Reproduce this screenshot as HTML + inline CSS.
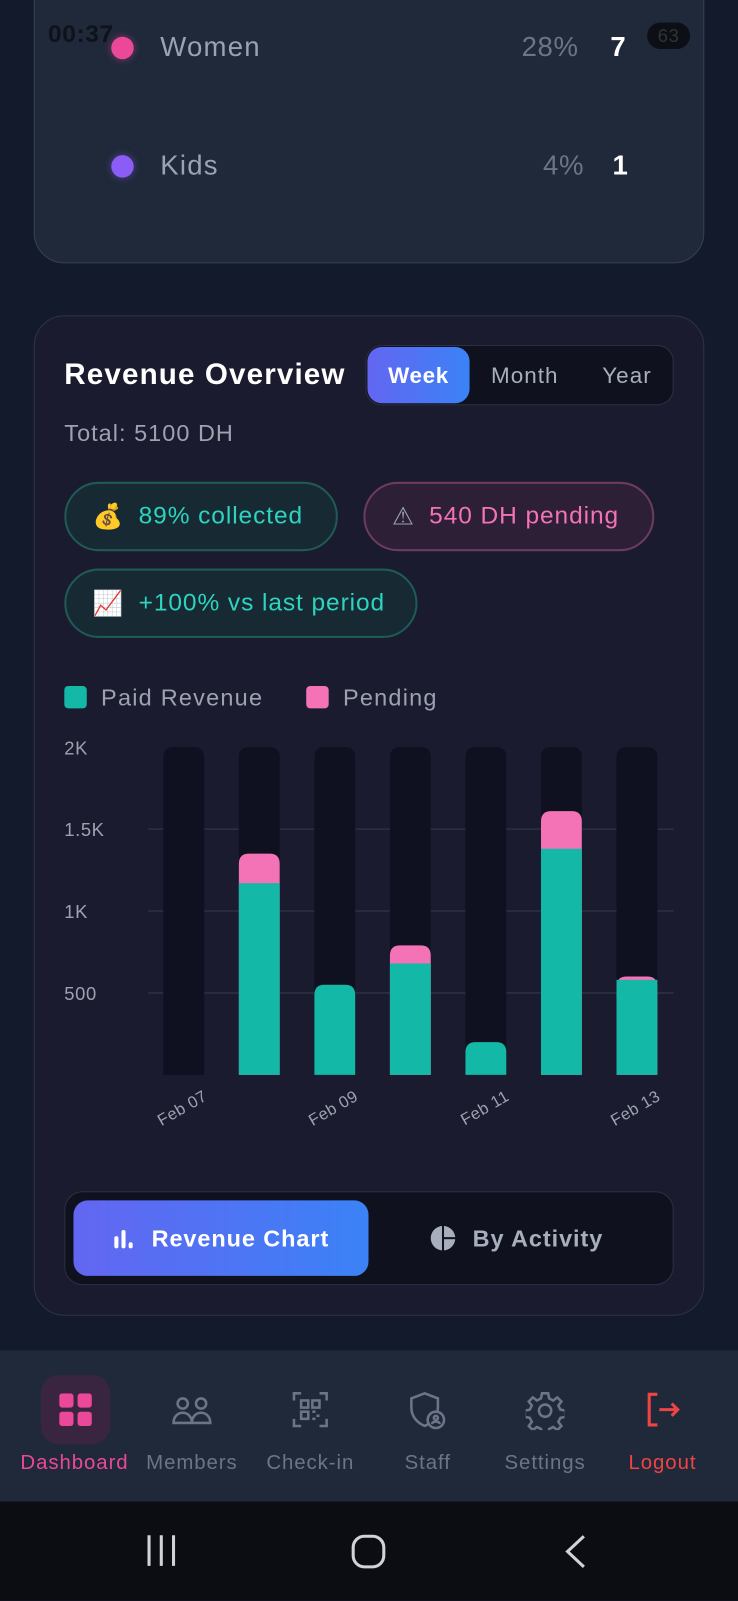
<!DOCTYPE html>
<html><head><meta charset="utf-8">
<style>
html,body{margin:0;padding:0;width:738px;height:1600px;overflow:hidden;background:#111827;}
#root{position:absolute;left:0;top:0;width:723px;height:1568px;transform:scale(1.020747);transform-origin:0 0;background:#121a2b;font-family:"Liberation Sans","DejaVu Sans",sans-serif;overflow:hidden;letter-spacing:0.6px;}
.abs{position:absolute;}
.t{position:absolute;white-space:nowrap;}
.pill{position:absolute;border-radius:34px;box-sizing:border-box;display:flex;align-items:center;font-size:24px;letter-spacing:0.9px;}
.nav{position:absolute;top:1323px;width:110px;text-align:center;}
.nav .lbl{position:absolute;top:99px;left:-10px;width:130px;font-size:20px;color:#6b7587;letter-spacing:0.9px;}
</style></head><body>
<div id="root">
  <div class="abs" style="left:33px;top:-40px;width:657px;height:298px;background:#1f293a;border:1.5px solid #364154;border-radius:30px;box-sizing:border-box;"></div>
  <div class="abs" style="left:109px;top:36px;width:22px;height:22px;border-radius:50%;background:#ec4899;box-shadow:0 0 8px rgba(236,72,153,.5)"></div>
  <div class="t" style="left:157px;top:31px;font-size:27px;letter-spacing:1.2px;color:#9aa3b2">Women</div>
  <div class="t" style="left:511px;top:31px;font-size:27px;color:#6b7587">28%</div>
  <div class="t" style="left:598px;top:31px;font-size:27px;color:#fff;font-weight:bold">7</div>
  <div class="abs" style="left:109px;top:152px;width:22px;height:22px;border-radius:50%;background:#8b5cf6;box-shadow:0 0 8px rgba(139,92,246,.5)"></div>
  <div class="t" style="left:157px;top:147px;font-size:27px;letter-spacing:1.2px;color:#9aa3b2">Kids</div>
  <div class="t" style="left:532px;top:147px;font-size:27px;color:#6b7587">4%</div>
  <div class="t" style="left:600px;top:147px;font-size:27px;color:#fff;font-weight:bold">1</div>
  <div class="t" style="left:47px;top:20px;font-size:24px;color:#0c0f16;font-weight:bold;opacity:.85">00:37</div>
  <div class="abs" style="left:634px;top:22px;width:42px;height:26px;border-radius:13px;background:#0c0f16;color:#333;font-size:18px;text-align:center;line-height:26px">63</div>

  <div class="abs" style="left:33px;top:309px;width:657px;height:980px;background:#1a1b2e;border:1.5px solid #2f3346;border-radius:30px;box-sizing:border-box;"></div>
  <div class="t" style="left:63px;top:351px;font-size:29px;letter-spacing:1.1px;font-weight:bold;color:#fff">Revenue Overview</div>
  <div class="abs" style="left:358px;top:338px;width:302px;height:59px;background:#10111f;border:1.5px solid #2c2f42;border-radius:16px;box-sizing:border-box"></div>
  <div class="abs" style="left:360px;top:340px;width:100px;height:55px;border-radius:14px;background:linear-gradient(90deg,#6366f1,#3b82f6);color:#fff;font-size:22px;text-align:center;line-height:55px;font-weight:bold">Week</div>
  <div class="t" style="left:481px;top:355px;font-size:22px;letter-spacing:1px;color:#a7afbd">Month</div>
  <div class="t" style="left:590px;top:355px;font-size:22px;letter-spacing:1px;color:#a7afbd">Year</div>
  <div class="t" style="left:63px;top:411px;font-size:23px;letter-spacing:1px;color:#9ca3af">Total: 5100 DH</div>

  <div class="pill" style="left:63px;top:472px;width:268px;height:68px;background:#172a34;border:2px solid #1f5a55;color:#2dd4bf;padding-left:26px">💰<span style="margin-left:14px">89% collected</span></div>
  <div class="pill" style="left:356px;top:472px;width:285px;height:68px;background:#2c1f36;border:2px solid #6d3b60;color:#f472b6;padding-left:26px"><span style="color:#9aa3b2">⚠</span><span style="margin-left:14px">540 DH pending</span></div>
  <div class="pill" style="left:63px;top:557px;width:346px;height:68px;background:#172a34;border:2px solid #1f5a55;color:#2dd4bf;padding-left:26px">📈<span style="margin-left:14px">+100% vs last period</span></div>

  <div class="abs" style="left:63px;top:672px;width:22px;height:22px;border-radius:4px;background:#14b8a6"></div>
  <div class="t" style="left:99px;top:670px;font-size:23px;letter-spacing:1.2px;color:#9ca3af">Paid Revenue</div>
  <div class="abs" style="left:300px;top:672px;width:22px;height:22px;border-radius:4px;background:#f472b6"></div>
  <div class="t" style="left:336px;top:670px;font-size:23px;letter-spacing:1.2px;color:#9ca3af">Pending</div>

  <svg class="abs" id="chart" style="left:0;top:700px" width="723" height="420"></svg>

  <div class="abs" style="left:63px;top:1167px;width:597px;height:92px;background:#10111f;border:1.5px solid #2c2f42;border-radius:18px;box-sizing:border-box"></div>
  <div class="abs" style="left:72px;top:1176px;width:289px;height:74px;border-radius:14px;background:linear-gradient(90deg,#6366f1,#3b82f6);color:#fff;font-size:23px;letter-spacing:0.9px;font-weight:bold;display:flex;align-items:center;justify-content:center">
    <svg width="22" height="22" viewBox="0 0 22 22" style="margin-right:16px"><rect x="2" y="9" width="4" height="12" rx="2" fill="#fff"/><rect x="9" y="3" width="4" height="18" rx="2" fill="#fff"/><rect x="16" y="15" width="4" height="6" rx="2" fill="#fff"/></svg>Revenue Chart</div>
  <div class="abs" style="left:361px;top:1176px;width:290px;height:74px;color:#a7afbd;font-size:23px;letter-spacing:0.9px;font-weight:bold;display:flex;align-items:center;justify-content:center">
    <svg width="26" height="26" viewBox="0 0 26 26" style="margin-right:16px"><circle cx="13" cy="13" r="12" fill="#a7afbd"/><rect x="12" y="0" width="2" height="26" fill="#10111f"/><rect x="13" y="12" width="13" height="2" fill="#10111f"/></svg>By Activity</div>

  <div class="abs" style="left:0;top:1323px;width:723px;height:148px;background:#1f293a"></div>
  <div class="nav" style="left:18px">
    <div class="abs" style="left:22px;top:24px;width:68px;height:68px;border-radius:18px;background:#3a2540"></div>
    <svg class="abs" style="left:40px;top:42px" width="32" height="32"><rect x="0" y="0" width="14" height="14" rx="3" fill="#ec4899"/><rect x="18" y="0" width="14" height="14" rx="3" fill="#ec4899"/><rect x="0" y="18" width="14" height="14" rx="3" fill="#ec4899"/><rect x="18" y="18" width="14" height="14" rx="3" fill="#ec4899"/></svg>
    <div class="lbl" style="color:#ec4899;left:-18px;width:146px">Dashboard</div></div>
  <div class="nav" style="left:133px">
    <svg class="abs" style="left:35px;top:44px" width="40" height="30" fill="none" stroke="#6b7587" stroke-width="2.5"><circle cx="11" cy="8" r="5"/><circle cx="29" cy="8" r="5"/><path d="M2 27c0-7 5-10 9-10s9 3 9 10zM20 27c0-7 5-10 9-10s9 3 9 10z"/></svg>
    <div class="lbl">Members</div></div>
  <div class="nav" style="left:249px">
    <svg class="abs" style="left:37px;top:40px" width="36" height="36" fill="none" stroke="#6b7587" stroke-width="2.5"><path d="M2 9V2h7M27 2h7v7M34 27v7h-7M9 34H2v-7"/><rect x="9" y="9" width="7" height="7"/><rect x="20" y="9" width="7" height="7"/><rect x="9" y="20" width="7" height="7"/><path d="M20 20h3M24 24h3M20 27h3" /></svg>
    <div class="lbl">Check-in</div></div>
  <div class="nav" style="left:364px">
    <svg class="abs" style="left:36px;top:40px" width="40" height="40" fill="none" stroke="#6b7587" stroke-width="2.5"><path d="M16 2l13 5v9c0 9-6 15-13 18C9 31 3 25 3 16V7z"/><circle cx="27" cy="28" r="8" fill="#1f293a"/><circle cx="27" cy="26" r="2"/><path d="M23 32c1-3 7-3 8 0"/></svg>
    <div class="lbl">Staff</div></div>
  <div class="nav" style="left:479px">
    <svg class="abs" style="left:36px;top:40px" width="38" height="38" viewBox="0 0 38 38" fill="none" stroke="#6b7587" stroke-width="2.5"><circle cx="19" cy="19" r="6"/><path d="M16 2h6l1 5 4 2 4-3 4 4-3 4 2 4 5 1v6l-5 1-2 4 3 4-4 4-4-3-4 2-1 5h-6l-1-5-4-2-4 3-4-4 3-4-2-4-5-1v-6l5-1 2-4-3-4 4-4 4 3 4-2z"/></svg>
    <div class="lbl">Settings</div></div>
  <div class="nav" style="left:594px">
    <svg class="abs" style="left:38px;top:40px" width="36" height="36" fill="none" stroke="#ef4444" stroke-width="3"><path d="M12 3H4v30h8"/><path d="M14 18h18M26 12l6 6-6 6"/></svg>
    <div class="lbl" style="color:#ef4444">Logout</div></div>

  <div class="abs" style="left:0;top:1471px;width:723px;height:97px;background:#0b0d12"></div>
  <svg class="abs" style="left:0;top:1471px" width="723" height="97" fill="none" stroke="#d0d3d8" stroke-width="3">
    <path d="M146 33v30M158 33v30M170 33v30"/>
    <rect x="346" y="34" width="30" height="30" rx="11"/>
    <path d="M572 34l-16 15 16 15"/>
  </svg>
</div>
<script>
const categories=["Feb 07","Feb 08","Feb 09","Feb 10","Feb 11","Feb 12","Feb 13"];
const paidValues=[0,1170,550,680,200,1380,580];
const pendingValues=[0,180,0,110,0,230,20];
const tickValues=[500,1000,1500,2000];
const tickLabels=["500","1K","1.5K","2K"];
const xLabelShown=[true,false,true,false,true,false,true];

const svg=document.getElementById('chart');
const NS='http://www.w3.org/2000/svg';
const Y0=353, YMAX=32, VMAX=2000;
function yScale(v){return Y0-(v/VMAX)*(Y0-YMAX);}
function xCenter(i){return 180+i*74;}
const BW=40;
function mk(tag,attrs){const e=document.createElementNS(NS,tag);for(const k in attrs)e.setAttribute(k,attrs[k]);svg.appendChild(e);return e;}
tickValues.forEach((v,i)=>{
  if(v<VMAX){const g=mk('line',{x1:145,x2:660,y1:yScale(v),y2:yScale(v),stroke:'#2c2f42','stroke-width':1.5});
  
  }
  const t=mk('text',{x:63,y:yScale(v)+7,fill:'#9ca3af','font-size':18,'letter-spacing':0.6,'font-family':'Liberation Sans, sans-serif'});
  t.textContent=tickLabels[i];
  
  
});
function roundTopPath(x,y,w,h,r){r=Math.min(r,h);return `M${x} ${y+h}V${y+r}Q${x} ${y} ${x+r} ${y}H${x+w-r}Q${x+w} ${y} ${x+w} ${y+r}V${y+h}Z`;}
categories.forEach((c,i)=>{
  const x=xCenter(i)-BW/2;
  const bg=mk('path',{d:roundTopPath(x,yScale(VMAX),BW,Y0-yScale(VMAX),10),fill:'#0f1020'});
  
  
  const total=paidValues[i]+pendingValues[i];
  if(pendingValues[i]>0){
    const p=mk('path',{d:roundTopPath(x,yScale(total),BW,Y0-yScale(total),10),fill:'#f472b6'});
    
    
    if(paidValues[i]>0){const pd=mk('rect',{x:x,y:yScale(paidValues[i]),width:BW,height:Y0-yScale(paidValues[i]),fill:'#14b8a6'});
    
    }
  } else if(paidValues[i]>0){
    const pd=mk('path',{d:roundTopPath(x,yScale(paidValues[i]),BW,Y0-yScale(paidValues[i]),10),fill:'#14b8a6'});
    
    
  }
  if(xLabelShown[i]){
    const t=mk('text',{x:xCenter(i)+24,y:Y0+24,fill:'#9ca3af','font-size':16,'letter-spacing':0.5,'text-anchor':'end','font-family':'Liberation Sans, sans-serif',transform:`rotate(-30 ${xCenter(i)+24} ${Y0+24})`});
    t.textContent=c;
    
    
  }
});
</script>
</body></html>
